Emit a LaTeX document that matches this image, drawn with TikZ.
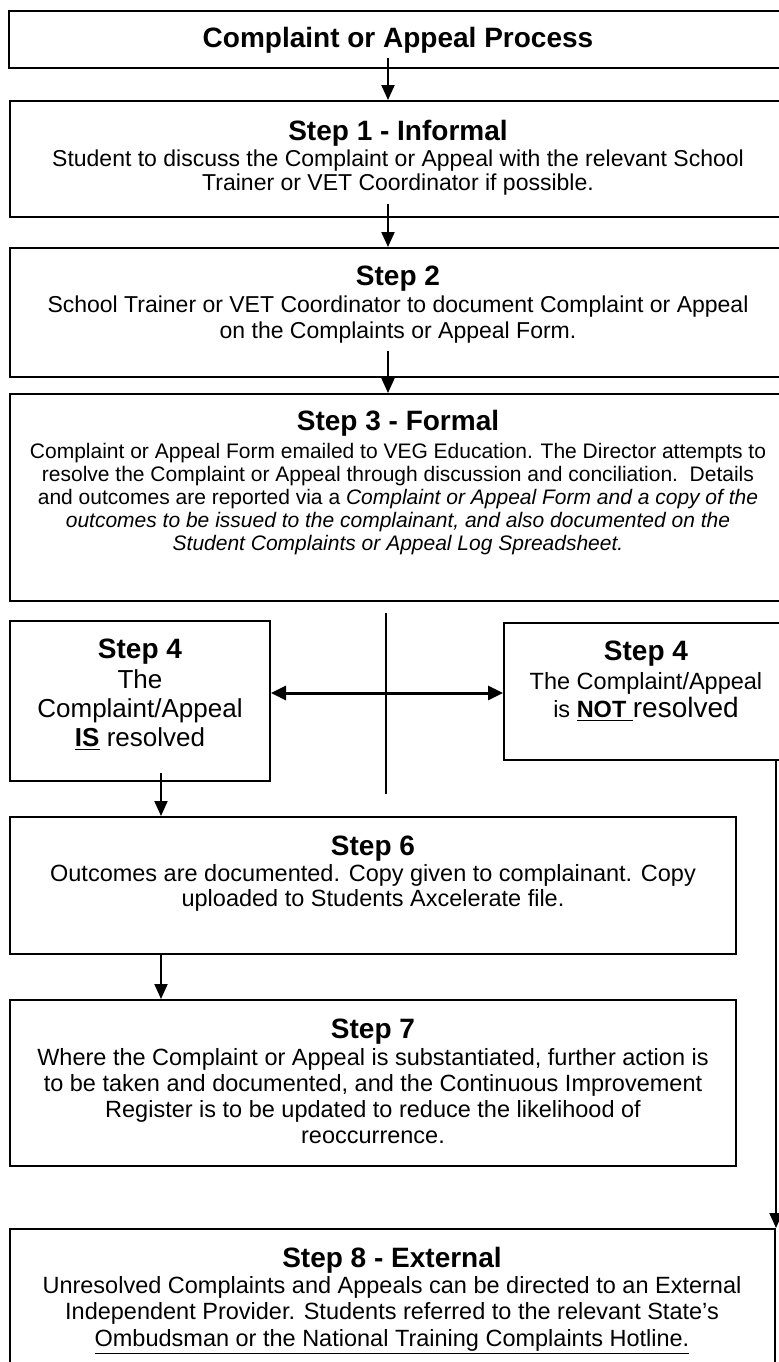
\documentclass[tikz,border=0pt]{standalone}
\usepackage{fontspec}
\setmainfont{Liberation Sans}
\usetikzlibrary{arrows.meta,fit,calc}

\tikzset{
  box/.style={draw, line width=1pt, inner sep=0pt},
  steptitle/.style={anchor=base, inner sep=0pt, font=\fontsize{14}{16}\selectfont\bfseries},
  stepbody/.style={anchor=base, inner sep=0pt, align=center},
  flow/.style={line width=1pt, -{Triangle[width=6.5pt,length=7.5pt]}},
  twoway/.style={line width=1.5pt, {Triangle[width=7pt,length=7.5pt]}-{Triangle[width=7pt,length=7.5pt]}},
}

\begin{document}
\begin{tikzpicture}[x=0.5pt,y=-0.5pt]
	
	\useasboundingbox (0,0) rectangle (779,1362);
	\clip (0,0) rectangle (779,1362);
	
	% boxes
	\node[box, fit={(9,11) (787,68)}] (head) {};
	\node[box, fit={(10,101) (787,217)}] (s1) {};
	\node[box, fit={(10,248) (787,377)}] (s2) {};
	\node[box, fit={(10,394) (787,601)}] (s3) {};
	\node[box, fit={(10,621) (270,781)}] (s4yes) {};
	\node[box, fit={(504,623) (788,760)}] (s4no) {};
	\node[box, fit={(10,817) (736,954)}] (s6) {};
	\node[box, fit={(10,1000) (736,1166)}] (s7) {};
	\node[box, fit={(10,1229) (775,1420)}] (s8) {};
	
	% texts (body nodes sit on the baseline of their last line)
	\node[steptitle] (headt) at (398,47) {Complaint or Appeal Process};
	
	\node[steptitle] (s1t) at (398,140) {Step 1 - Informal};
	\node[stepbody, font=\fontsize{11.5}{12}\selectfont] (s1b) at (398,190)
		{Student to discuss the Complaint or Appeal with the relevant School\\
		 Trainer or VET Coordinator if possible.};
	
	\node[steptitle] (s2t) at (398,285) {Step 2};
	\node[stepbody, font=\fontsize{11.5}{13}\selectfont] (s2b) at (398,338)
		{School Trainer or VET Coordinator to document Complaint or Appeal\\
		 on the Complaints or Appeal Form.};
	
	\node[steptitle] (s3t) at (398,430) {Step 3 - Formal};
	\node[stepbody, font=\fontsize{10.5}{11.5}\selectfont] (s3b) at (398,550)
		{Complaint or Appeal Form emailed to VEG Education. The Director attempts to\\
		 resolve the Complaint or Appeal through discussion and conciliation.\ \ Details\\
		 and outcomes are reported via a \textit{Complaint or Appeal Form and a copy of the}\\
		 \textit{outcomes to be issued to the complainant, and also documented on the}\\
		 \textit{Student Complaints or Appeal Log Spreadsheet.}};
	
	\node[steptitle] (s4yest) at (140,658) {Step 4};
	\node[stepbody, font=\fontsize{13}{14.5}\selectfont] (s4yesb) at (140,746)
		{The\\Complaint/Appeal\\\textbf{\underline{IS}} resolved};
	
	\node[steptitle] (s4not) at (646,660) {Step 4};
	\node[stepbody, font=\fontsize{11.75}{14}\selectfont] (s4nob) at (646,717)
		{The Complaint/Appeal\\
		 is \textbf{\underline{NOT\ }}{\fontsize{14}{14}\selectfont resolved}};
	
	\node[steptitle] (s6t) at (373,855) {Step 6};
	\node[stepbody, font=\fontsize{11.75}{12.5}\selectfont] (s6b) at (373,906)
		{Outcomes are documented. Copy given to complainant. Copy\\
		 uploaded to Students Axcelerate file.};
	
	\node[steptitle] (s7t) at (373,1038) {Step 7};
	\node[stepbody, font=\fontsize{11.75}{13}\selectfont] (s7b) at (373,1143)
		{Where the Complaint or Appeal is substantiated, further action is\\
		 to be taken and documented, and the Continuous Improvement\\
		 Register is to be updated to reduce the likelihood of\\
		 reoccurrence.};
	
	\node[steptitle] (s8t) at (392,1267) {Step 8 - External};
	\node[stepbody, font=\fontsize{11.75}{13.25}\selectfont] (s8b) at (392,1346)
		{Unresolved Complaints and Appeals can be directed to an External\\
		 Independent Provider. Students referred to the relevant State’s\\
		 \underline{Ombudsman or the National Training Complaints Hotline.}};
	
	% connectors
	\coordinate (spine) at (388,0);
	\coordinate (lspine) at (161,0);
	\coordinate (split) at (386,693);
	\coordinate (splittop) at (386,613);
	\coordinate (splitbot) at (386,794);
	
	\draw[flow, shorten <=-5.5pt] (head.south -| spine) -- (s1.north -| spine);
	\draw[flow, shorten <=-7pt] (s1.south -| spine) -- (s2.north -| spine);
	\draw[flow, shorten <=-13.5pt] (s2.south -| spine) -- (s3.north -| spine);
	
	\draw[line width=1pt] (splittop) -- (splitbot);
	\draw[twoway] (s4yes.east |- split) -- (s4no.west |- split);
	
	\draw[flow, shorten <=-4.5pt] (s4yes.south -| lspine) -- (s6.north -| lspine);
	\draw[flow] (s6.south -| lspine) -- (s7.north -| lspine);
	\draw[flow] (s4no.south -| s8.north east) -- (s8.north east);
	
\end{tikzpicture}
\end{document}
